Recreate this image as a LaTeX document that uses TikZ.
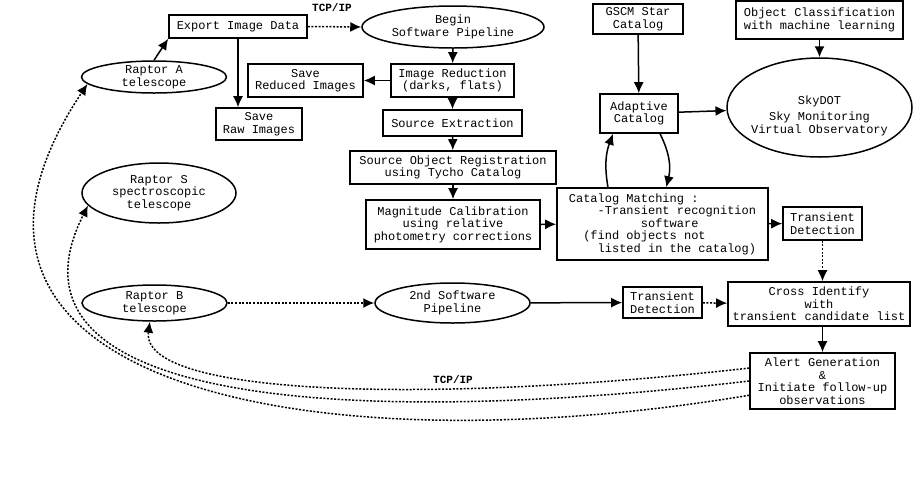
\documentclass[tikz,border=0pt]{standalone}
\usepackage{fontspec}
\setmainfont{Liberation Mono}
\usetikzlibrary{arrows.meta,shapes.geometric}

\begin{document}
\begin{tikzpicture}[x=1pt,y=-1pt,>={Latex[length=11pt,width=10pt]},
box/.style ={rectangle, draw, line width=1.6pt, align=center, inner sep=1pt, font=\fontsize{12}{12.5}\selectfont},
oval/.style={ellipse, draw, line width=1.5pt, align=center, inner xsep=0pt, inner ysep=-1pt, font=\fontsize{12}{12.5}\selectfont},
flow/.style={->, line width=1.5pt},
net/.style={->, line width=1.5pt, dash pattern=on 2pt off 1.6pt},
tag/.style={font=\bfseries\fontsize{11}{11}\selectfont}]

\useasboundingbox (0,0) rectangle (919,491);

\draw (238,26.5) node[box, minimum width=138pt, minimum height=23pt] (Exp) {Export Image Data};
\draw (453,27) node[oval, minimum width=182pt, minimum height=42pt] (Begin) {Begin\\Software Pipeline};
\draw (154,77) node[oval, minimum width=145pt, minimum height=32pt] (RA) {Raptor A\\telescope};
\draw (305.5,80.5) node[box, minimum width=115pt, minimum height=33pt] (SaveRed) {Save\\Reduced Images};
\draw (259,124) node[box, minimum width=86pt, minimum height=32pt] (SaveRaw) {Save\\Raw Images};
\draw (452.5,80.5) node[box, minimum width=123pt, minimum height=33pt] (ImRed) {Image Reduction\\(darks, flats)};
\draw (452.5,123) node[box, minimum width=139pt, minimum height=26pt] (SrcExt) {Source Extraction};
\draw (453,167.5) node[box, minimum width=206pt, minimum height=33pt] (SrcReg) {Source Object Registration\\using Tycho Catalog};
\draw (453,224.5) node[box, minimum width=174pt, minimum height=49pt] (MagCal) {Magnitude Calibration\\using relative\\photometry corrections};
\draw (159,193) node[oval, minimum width=154pt, minimum height=60pt] (RS) {Raptor S\\spectroscopic\\telescope};
\draw (638,19) node[box, minimum width=90pt, minimum height=30pt] (GSCM) {GSCM Star\\Catalog};
\draw (819.5,20) node[box, minimum width=167pt, minimum height=38pt] (ObjCl) {Object Classification\\with machine learning};
\draw (639,113.5) node[box, minimum width=78pt, minimum height=39pt] (AdCat) {Adaptive\\Catalog};
\draw (819.5,107.5) node[oval, inner xsep=-5pt, minimum width=185pt, minimum height=99pt] (Sky) {\rule{0pt}{25pt}SkyDOT\\[4pt]Sky Monitoring\\Virtual Observatory};
\draw (662.5,224) node[box, align=left, minimum width=211pt, minimum height=72pt] (CatM) {Catalog Matching :\\~~~~-Transient recognition\\~~~~~~~~~~software\\~~(find objects not\\~~~~listed in the catalog)};
\draw (822.5,223.5) node[box, minimum width=79pt, minimum height=33pt] (TDa) {Transient\\Detection};
\draw (154.5,303) node[oval, minimum width=145pt, minimum height=36pt] (RB) {Raptor B\\telescope};
\draw (452.5,303) node[oval, minimum width=155pt, minimum height=40pt] (Pipe) {2nd Software\\Pipeline};
\draw (662.5,302.5) node[box, minimum width=79pt, minimum height=31pt] (TDb) {Transient\\Detection};
\draw (819,304) node[box, minimum width=182pt, minimum height=44pt] (Cross) {Cross Identify\\with\\transient candidate list};
\draw (822.5,381) node[box, minimum width=145pt, minimum height=56pt] (Alert) {Alert Generation\\\&\\Initiate follow-up\\observations};
\draw (332,8) node[tag] (TCPa) {TCP/IP};
\draw (453,380) node[tag] (TCPb) {TCP/IP};

% main pipeline
\draw[flow] (RA.north)--(Exp.south west);
\draw[net] (Exp.east)--(Begin.west);
\draw[flow] (Exp.south)--(Exp.south |- SaveRaw.north);
\draw[flow] (Begin)--(ImRed);
\draw[flow] (ImRed)--(SaveRed);
\draw[flow] (ImRed)--(SrcExt);
\draw[flow] (SrcExt)--(SrcReg);
\draw[flow] (SrcReg)--(MagCal);
\draw[flow] (MagCal)--(CatM);
\draw[flow] (GSCM)--(AdCat);
\draw[flow] (AdCat)--(Sky);
\draw[flow] (ObjCl)--(Sky);
\draw[flow] (CatM.146) to[bend left=15] (AdCat.218);
\draw[flow] (AdCat.316) to[bend left=20] (CatM.84);
\draw[flow] (CatM)--(TDa);
\draw[net] (TDa.south)--(TDa.south |- Cross.north);

% second pipeline
\draw[net] (RB)--(Pipe);
\draw[flow] (Pipe)--(TDb);
\draw[net] (TDb)--(Cross);
\draw[flow] (Alert.north |- Cross.south)--(Alert.north);

% alerts back to the telescopes
\draw[net] (Alert.170) .. controls (420,405) and (140,395) .. (RB.256);
\draw[net] (Alert.180) .. controls (330,430) and (-10,400) .. (RS.190);
\draw[net] (Alert.191) .. controls (300,470) and (-110,380) .. (RA.186);

\end{tikzpicture}
\end{document}
